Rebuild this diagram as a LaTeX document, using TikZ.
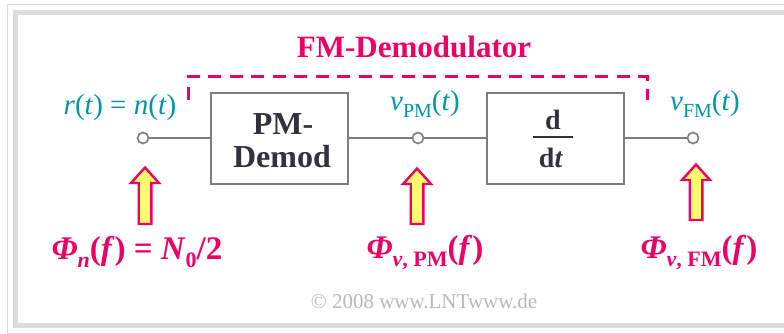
\documentclass[tikz,border=0pt]{standalone}
\usepackage{fontspec}
\setmainfont{Liberation Serif}
\definecolor{lntred}{RGB}{236,0,100}
\definecolor{lntteal}{RGB}{0,150,160}
\definecolor{boxgray}{RGB}{125,125,125}
\definecolor{txtdark}{RGB}{50,50,62}
\definecolor{arrowyellow}{RGB}{255,255,110}
\definecolor{framegray}{RGB}{220,220,220}
\definecolor{copygray}{RGB}{185,185,185}
\newcommand\lntarrow[3]{% x, tip y, tail y
  \draw[psdarrow] (#1-6.3,#3) -- (#1-6.3,#2+17) -- (#1-14,#2+17) -- (#1,#2+1.5)
    -- (#1+14,#2+17) -- (#1+6.3,#2+17) -- (#1+6.3,#3) -- cycle;}
\newcommand\subsc[1]{\raisebox{-6pt}{\fontsize{20}{20}\selectfont #1}}
\newcommand\subbf[1]{\raisebox{-8pt}{\fontsize{22}{22}\selectfont #1}}
\begin{document}
\begin{tikzpicture}[x=1pt,y=-1pt,
  blk/.style={draw=boxgray, line width=2pt, minimum width=137pt, minimum height=91pt, inner sep=0pt},
  boxtxt/.style={text=txtdark, font=\fontsize{32}{34}\selectfont\bfseries, anchor=base, inner sep=0pt},
  fractxt/.style={text=txtdark, font=\fontsize{28}{30}\selectfont\bfseries, anchor=base, inner sep=0pt},
  port/.style={circle, draw=boxgray, line width=1.6pt, fill=white, minimum size=11pt, inner sep=0pt},
  wire/.style={draw=boxgray, line width=1.6pt},
  sig/.style={text=lntteal, font=\fontsize{29}{30}\selectfont, anchor=base, inner sep=0pt},
  psd/.style={text=lntred, font=\fontsize{33}{35}\selectfont\bfseries, anchor=base, inner sep=0pt},
  ttl/.style={text=lntred, font=\fontsize{31}{33}\selectfont\bfseries, anchor=base, inner sep=0pt},
  dashline/.style={draw=lntred, line width=3pt, dash pattern=on 13pt off 8.5pt},
  psdarrow/.style={draw=lntred, fill=arrowyellow, line width=2.4pt, line join=miter},
  copy/.style={text=copygray, font=\fontsize{21}{22}\selectfont, anchor=base, inner sep=0pt}
]
\useasboundingbox (0,0) rectangle (784,334);
% frame
\draw[line width=1pt, framegray] (7.5,4.5) rectangle (800,333);
\draw[line width=5pt, framegray] (15.5,12.5) rectangle (800,325.5);

% title and dashed bracket
\node[ttl] (title) at (414,58) {FM-Demodulator};
\coordinate (dA) at (188,100);
\coordinate (dB) at (188,77);
\coordinate (dC) at (647,77);
\coordinate (dD) at (647,100);
\draw[dashline] (dA) -- (dB) -- (dC) -- (dD);

% blocks and ports
\node[port] (c1) at (143,138) {};
\node[blk] (pm) at (279.5,138.5) {};
\node[port] (c2) at (418,138) {};
\node[blk] (dd) at (555.5,138.5) {};
\node[port] (c3) at (693,138) {};
\draw[wire] (c1.east) -- (c1.east -| pm.west);
\draw[wire] (c2.west -| pm.east) -- (c2.west);
\draw[wire] (c2.east) -- (c2.east -| dd.west);
\draw[wire] (c3.west -| dd.east) -- (c3.west);

\node[boxtxt] (pm1) at (283,135) {PM-};
\node[boxtxt] (pm2) at (282,167) {Demod};
\node[fractxt] (fnum) at (553,130) {d};
\node[fractxt] (fden) at (551,167) {d\textit{t}};
\draw[line width=1.3pt, txtdark] (533,137) -- (573,137);

% signal labels
\node[sig] (lr) at (120,115) {\textit{r}(\textit{t}) = \textit{n}(\textit{t})};
\node[sig] (lv1) at (425,111) {\textit{v}\subsc{PM}(\textit{t})};
\node[sig] (lv2) at (705,111) {\textit{v}\subsc{FM}(\textit{t})};

% PSD arrows
\lntarrow{145}{166}{224}
\lntarrow{417}{167}{224}
\lntarrow{696}{163}{220}

% PSD labels
\node[psd] (p1) at (137,259) {\textit{Φ}\subbf{\textit{n}}(\textit{f}) = \textit{N}\subbf{0}/2};
\node[psd] (p2) at (425,258) {\textit{Φ}\subbf{\textit{v}, PM}(\textit{f})};
\node[psd] (p3) at (699,258) {\textit{Φ}\subbf{\textit{v}, FM}(\textit{f})};

\node[copy] (cp) at (424,308) {© 2008 www.LNTwww.de};
\end{tikzpicture}
\end{document}
